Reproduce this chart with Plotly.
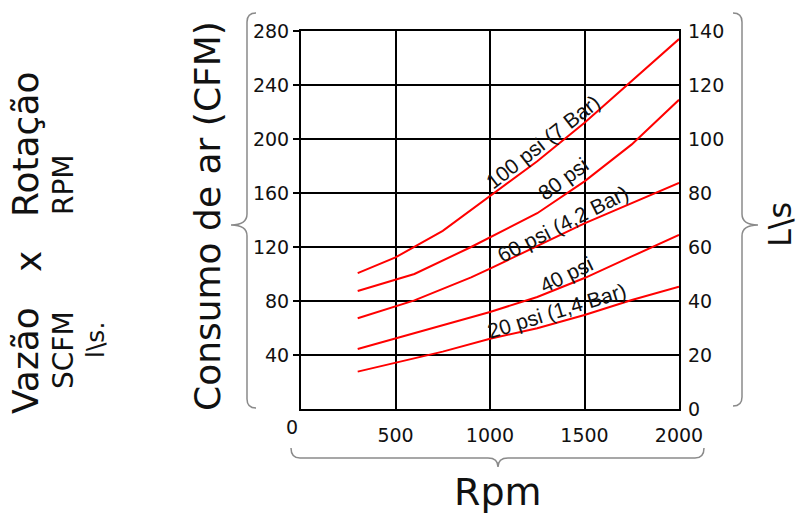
import plotly.graph_objects as go

# ---- data ----
rpm_100 = [300, 500, 750, 1000, 1250, 1500, 1750, 2000]
cfm_100 = [100.7, 112.3, 132, 157.5, 183.5, 212, 243, 274]

rpm_80 = [300, 600, 900, 1250, 1500, 1750, 2000]
cfm_80 = [87.4, 100, 120, 145, 168.6, 196, 229]

rpm_60 = [300, 600, 900, 1000, 1500, 2000]
cfm_60 = [67.2, 80.5, 97.5, 104, 137.5, 167.5]

rpm_40 = [300, 500, 750, 1000, 1250, 1500, 1750, 2000]
cfm_40 = [44.4, 52.3, 62.2, 71.9, 83, 97, 113, 129]

rpm_20 = [300, 500, 750, 1000, 1250, 1500, 1750, 2000]
cfm_20 = [27.7, 34.3, 42.5, 52, 59.8, 69.6, 80.7, 90.6]

series_names = ["100 psi (7 Bar)", "80 psi", "60 psi (4,2 Bar)", "40 psi", "20 psi (1,4 Bar)"]
label_x = [1282, 1388, 1388, 1404, 1357]
label_y = [198, 171, 137.5, 100, 73]
label_angle = [-38, -36, -27, -26, -17]

x_ticks = [500, 1000, 1500, 2000]
y_ticks = [40, 80, 120, 160, 200, 240, 280]
y2_ticks = [0, 20, 40, 60, 80, 100, 120, 140]

W, H = 801, 515
L, R, T, B = 301, 679, 31, 409

def px(x):
    return (x - L) / (R - L)

def py(y):
    return (B - y) / (B - T)

GOTHIC = "'DejaVu Sans', Lato, sans-serif"

fig = go.Figure()
for xs, ys, nm in zip([rpm_100, rpm_80, rpm_60, rpm_40, rpm_20],
                      [cfm_100, cfm_80, cfm_60, cfm_40, cfm_20], series_names):
    fig.add_trace(go.Scatter(x=xs, y=ys, mode="lines", name=nm,
                             line=dict(color="#ff0000", width=2), showlegend=False))

# invisible trace for right axis
fig.add_trace(go.Scatter(x=[0], y=[0], yaxis="y2", mode="markers",
                         marker=dict(opacity=0), showlegend=False, hoverinfo="skip"))

fig.update_layout(
    width=W, height=H,
    margin=dict(l=L, r=W - R, t=T, b=H - B, autoexpand=False),
    paper_bgcolor="white", plot_bgcolor="white",
    xaxis=dict(range=[0, 2000], tickvals=x_ticks, ticktext=[str(v) for v in x_ticks],
               showgrid=True, gridcolor="black", gridwidth=1.5,
               showline=True, linecolor="black", linewidth=2, mirror=True,
               ticks="", zeroline=False, ticklabelstandoff=8,
               tickfont=dict(family=GOTHIC, size=19, color="#111")),
    yaxis=dict(range=[0, 280], tickvals=y_ticks, ticktext=[str(v) for v in y_ticks],
               showgrid=True, gridcolor="black", gridwidth=1.5,
               showline=True, linecolor="black", linewidth=2, mirror=True,
               ticks="outside", ticklen=6, tickcolor="black", tickwidth=1.5,
               zeroline=False,
               tickfont=dict(family=GOTHIC, size=19, color="#111")),
    yaxis2=dict(range=[0, 140], tickvals=y2_ticks, ticktext=[str(v) for v in y2_ticks],
                overlaying="y", side="right", showgrid=False, zeroline=False,
                showline=False, ticks="", ticklabelstandoff=8,
                tickfont=dict(family=GOTHIC, size=19, color="#111")),
)

ann = []
for nm, xx, yy, ang in zip(series_names, label_x, label_y, label_angle):
    ann.append(dict(x=xx, y=yy, xref="x", yref="y", text=nm, showarrow=False,
                    textangle=ang, font=dict(family="Liberation Sans, Arial", size=21, color="#111")))

def pa(text, x, y, size, angle=0, family=GOTHIC):
    ann.append(dict(x=px(x), y=py(y), xref="paper", yref="paper", text=text,
                    showarrow=False, textangle=angle, xanchor="center", yanchor="middle",
                    font=dict(family=family, size=size, color="#111")))

pa("0", 292, 427, 19)
pa("Consumo de ar (CFM)", 207, 216, 36, -90)
pa("Rpm", 498, 492, 38)
pa("L\\s", 780, 225, 32, -90)
pa("Vazão", 25, 361, 36, -90)
pa("x", 28, 262, 36, -90)
pa("Rotação", 25, 145, 36, -90)
pa("SCFM", 63, 350, 28, -90)
pa("RPM", 63, 185, 28, -90)
pa("l\\s.", 95, 340, 25, -90)
fig.update_layout(annotations=ann)

def P(x, y):
    return f"{px(x):.5f},{py(y):.5f}"

shapes = []
brace_style = dict(color="#8a8a8a", width=1.5)
left = (f"M {P(256,13)} Q {P(247,13)} {P(247,22)} L {P(247,214)} Q {P(247,225)} {P(231,225)} "
        f"Q {P(247,225)} {P(247,236)} L {P(247,399)} Q {P(247,408)} {P(256,408)}")
right = (f"M {P(733,13)} Q {P(742,13)} {P(742,22)} L {P(742,214)} Q {P(742,225)} {P(758,225)} "
         f"Q {P(742,225)} {P(742,236)} L {P(742,397)} Q {P(742,406)} {P(733,406)}")
bottom = (f"M {P(291,448)} Q {P(291,458)} {P(300,458)} L {P(488,458)} Q {P(498,458)} {P(498,467)} "
          f"Q {P(498,458)} {P(508,458)} L {P(695,458)} Q {P(704,458)} {P(704,448)}")
for p in (left, right, bottom):
    shapes.append(dict(type="path", path=p, xref="paper", yref="paper", line=brace_style))
fig.update_layout(shapes=shapes)

fig.write_html("out.html", config={"displayModeBar": False},
               post_script="document.body.style.margin='0';document.body.style.padding='0';")
